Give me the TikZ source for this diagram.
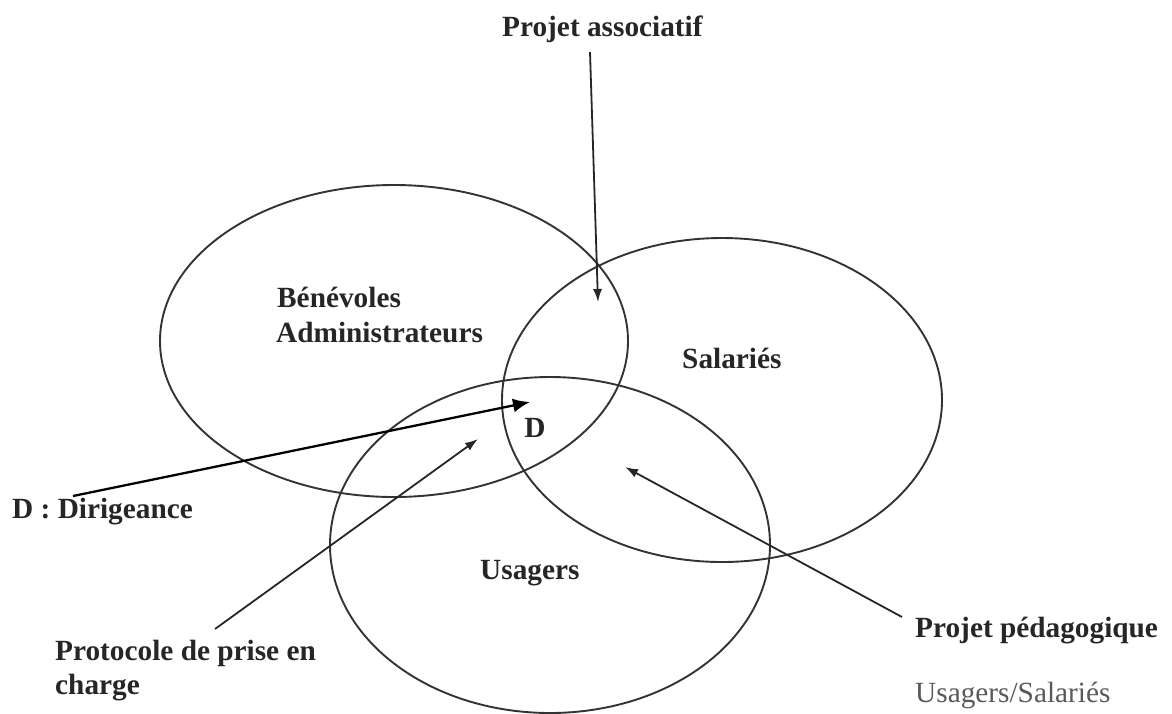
\documentclass[tikz,border=0pt]{standalone}
\usepackage{fontspec}
\setmainfont{Liberation Serif}
\usetikzlibrary{arrows.meta}
\tikzset{
  lbl/.style={anchor=base west, inner sep=0pt, font=\fontsize{29.3}{35}\selectfont\bfseries, text=black!85},
  sublbl/.style={anchor=base west, inner sep=0pt, font=\fontsize{29.3}{35}\selectfont, text=black!65},
  setline/.style={line width=1.9pt, draw=black!80},
  ptr/.style={line width=1.8pt, draw=black!85, -{Latex[length=13pt,width=9pt]}},
  bigptr/.style={line width=2.3pt, draw=black, -{Latex[length=17pt,width=14pt]}}
}
\begin{document}
\begin{tikzpicture}[x=1pt,y=-1pt]
\useasboundingbox (0,0) rectangle (1172,713);
% sets
\draw[setline] (394,341) ellipse [x radius=234, y radius=156];
\draw[setline] (722,400) ellipse [x radius=220, y radius=162];
\draw[setline] (550,545) ellipse [x radius=220, y radius=168];
% labels
\node[lbl] (assoc) at (502,36) {Projet associatif};
\node[lbl] (benev) at (277,307) {Bénévoles};
\node[lbl] (admin) at (276,342) {Administrateurs};
\node[lbl] (sal) at (682,368) {Salariés};
\node[lbl, anchor=base] (d) at (535,437) {D};
\node[lbl] (dirig) at (12,518) {D : Dirigeance};
\node[lbl] (usag) at (480,579) {Usagers};
\node[lbl] (proto) at (55,660) {Protocole de prise en};
\node[lbl] (charge) at (55,694) {charge};
\node[lbl] (peda) at (915,637) {Projet pédagogique};
\node[sublbl] (us) at (915,702) {Usagers/Salariés};
% connector ends
\coordinate (assocS) at (590,52);
\coordinate (assocE) at (598,302);
\coordinate (dirS) at (73,496);
\coordinate (dirE) at (530,402);
\coordinate (protS) at (215,629);
\coordinate (protE) at (478,439);
\coordinate (pedS) at (902,617);
\coordinate (pedE) at (625,467);
% arrows
\draw[ptr] (assocS) -- (assocE);
\draw[bigptr] (dirS) -- (dirE);
\draw[ptr] (protS) -- (protE);
\draw[ptr] (pedS) -- (pedE);
\end{tikzpicture}
\end{document}
